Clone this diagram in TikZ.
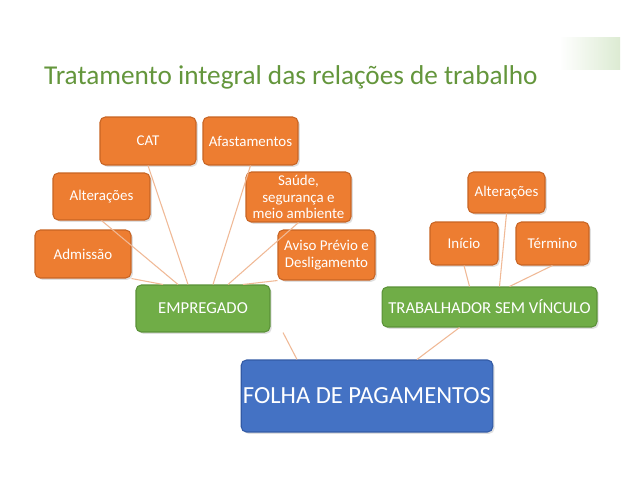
\documentclass[tikz,border=0pt]{standalone}
\usepackage{fontspec}
\setmainfont{Carlito}
\usetikzlibrary{shadows}
\definecolor{og}{RGB}{237,125,49}
\definecolor{ogd}{RGB}{200,100,35}
\definecolor{gr}{RGB}{112,173,71}
\definecolor{grd}{RGB}{90,145,55}
\definecolor{bl}{RGB}{68,114,196}
\definecolor{bld}{RGB}{50,90,165}
\definecolor{ttl}{RGB}{100,150,60}
\definecolor{ln}{RGB}{240,185,150}
\tikzset{
 box/.style={rounded corners=3pt,text=white,align=center,inner sep=1pt,line width=0.6pt,drop shadow={opacity=0.25,shadow xshift=1pt,shadow yshift=-1pt}},
 obox/.style={box,fill=og,draw=ogd,font=\fontsize{8.5}{9.5}\selectfont},
 gbox/.style={box,fill=gr,draw=grd,font=\fontsize{9.5}{11}\selectfont},
 conn/.style={draw=ln,line width=0.6pt}
}
\begin{document}
\begin{tikzpicture}[x=0.02cm,y=-0.02cm]
\useasboundingbox (0,0) rectangle (638,479);
\fill[white] (0,0) rectangle (638,479);
\shade[left color=white,right color=gr!40,opacity=0.6] (560,38) rectangle (620,70);
\node[text=ttl,font=\fontsize{15.5}{18}\selectfont,anchor=west] (title) at (38,77) {Tratamento integral das relações de trabalho};
\node[obox,minimum width=1.92cm,minimum height=0.96cm] (cat) at (148,141) {CAT};
\node[obox,minimum width=1.9cm,minimum height=0.96cm] (afa) at (250.5,141) {Afastamentos};
\node[obox,minimum width=1.94cm,minimum height=0.94cm] (alt) at (101.5,196.5) {Alterações};
\node[obox,minimum width=2.1cm,minimum height=1.0cm] (sau) at (298.5,197) {Saúde,\\segurança e\\meio ambiente};
\node[obox,minimum width=1.92cm,minimum height=0.96cm] (adm) at (83,254) {Admissão};
\node[obox,minimum width=1.94cm,minimum height=1.0cm] (avi) at (326.5,255) {Aviso Prévio e\\Desligamento};
\node[gbox,minimum width=2.68cm,minimum height=0.94cm] (emp) at (203,308.5) {EMPREGADO};
\node[obox,minimum width=1.54cm,minimum height=0.82cm] (alt2) at (506.5,192.5) {Alterações};
\node[obox,minimum width=1.36cm,minimum height=0.86cm] (ini) at (464,243.5) {Início};
\node[obox,minimum width=1.46cm,minimum height=0.86cm] (ter) at (552.5,243.5) {Término};
\node[gbox,minimum width=4.3cm,minimum height=0.8cm] (tsv) at (489.5,307) {TRABALHADOR SEM VÍNCULO};
\node[box,fill=bl,draw=bld,font=\fontsize{14}{16}\selectfont,minimum width=4.6cm,minimum height=1.44cm] (fol) at (367,396) {FOLHA DE PAGAMENTOS};
\begin{scope}[on background layer/.style={}]
\end{scope}
\draw[conn] (adm.south east) -- ([xshift=-0.8cm]emp.north);
\draw[conn] (alt.south) -- ([xshift=-0.5cm]emp.north);
\draw[conn] (cat.south) -- ([xshift=-0.3cm]emp.north);
\draw[conn] (afa.south) -- ([xshift=0.2cm]emp.north);
\draw[conn] (sau.south) -- ([xshift=0.5cm]emp.north);
\draw[conn] (avi.south west) -- ([xshift=0.8cm]emp.north);
\draw[conn] (ini.south) -- ([xshift=-0.4cm]tsv.north);
\draw[conn] (alt2.south) -- ([xshift=0.2cm]tsv.north);
\draw[conn] (ter.south) -- ([xshift=0.4cm]tsv.north);
\draw[conn] ([xshift=1.6cm]emp.south) -- ([xshift=-1.4cm]fol.north);
\draw[conn] ([xshift=-0.6cm]tsv.south) -- ([xshift=1.0cm]fol.north);
\end{tikzpicture}
\end{document}
